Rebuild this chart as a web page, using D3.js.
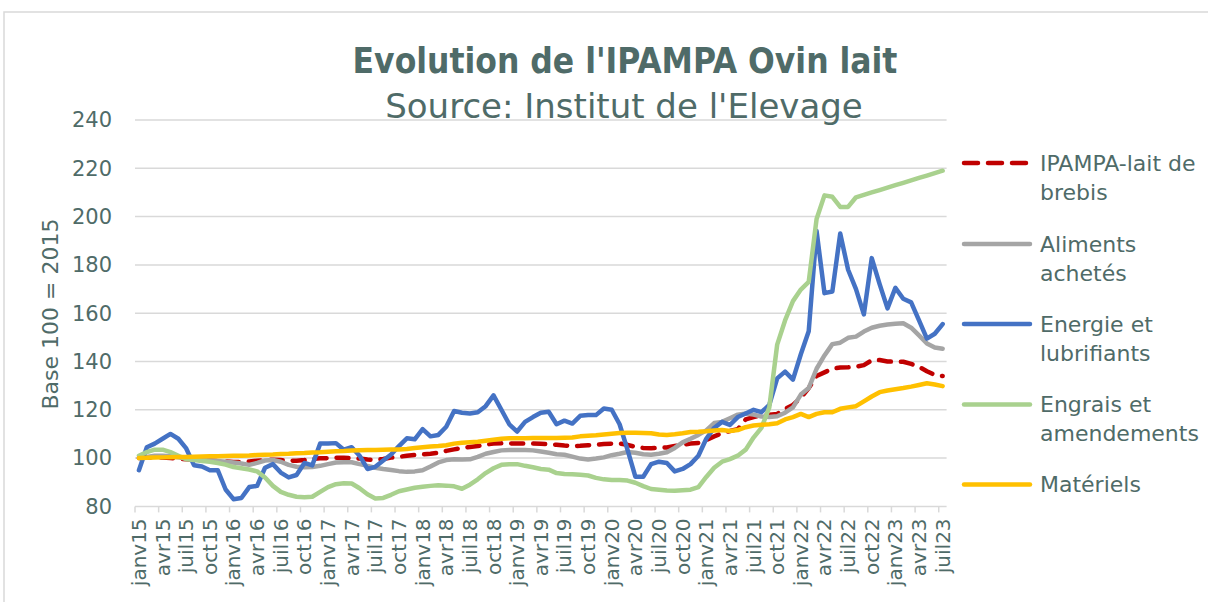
<!DOCTYPE html>
<html>
<head>
<meta charset="utf-8">
<script src="https://cdn.jsdelivr.net/npm/d3@7"></script>
<style>
	body { margin: 0; background: white; }
	svg { display: block; font-family: 'DejaVu Sans', sans-serif; }
</style>
</head>
<body>
<svg id="chart" width="1208" height="602"></svg>
<script>
// month names used for the category axis (janv15 ... juil23)
let monthNames = ['janv', 'févr', 'mars', 'avr', 'mai', 'juin', 'juil', 'août', 'sept', 'oct', 'nov', 'déc'];
let years = ['15', '16', '17', '18', '19', '20', '21', '22', '23'];
let yTicks = [80, 100, 120, 140, 160, 180, 200, 220, 240];

let ipampa = [100, 100.2, 100.3, 100.2, 100, 99.8, 99.5, 99.3, 99.1, 99, 98.8, 98.6,
	98.4, 98.4, 98.6, 98.9, 99.2, 99.3, 99.2, 99, 98.9, 99.2, 99.6, 99.9,
	100, 100.1, 100.1, 100, 99.8, 99.4, 99.3, 99.6, 100.2, 100.5, 101, 101.3,
	101.5, 101.8, 102.2, 103, 103.6, 104.2, 104.6, 105, 105.6, 106, 106.1, 106.1,
	106, 106, 106, 105.9, 105.8, 105.5, 105.2, 105, 105.1, 105.3, 105.5, 105.8,
	106, 106, 105.5, 104.6, 104.2, 104.1, 104.2, 104.4, 105, 105.5, 106, 106.3,
	107.5, 109, 110.3, 111.2, 112, 116, 117, 117.8, 118, 118.3, 120.3, 122,
	125, 129, 134, 135.5, 137, 137.5, 137.6, 137.8, 138.5, 140.5, 140.6, 140,
	139.9, 139.9, 139, 137.8, 136, 134.4, 134];
let aliments = [100, 100.5, 101, 101, 100.8, 100.3, 99.8, 99.5, 99.2, 99, 98.8, 98.5,
	98.2, 97.8, 97.2, 98, 99, 99.2, 98.5, 97.2, 96.4, 96.2, 96.3, 96.8,
	97.5, 98.2, 98.3, 98.3, 97.5, 96.8, 96, 95.5, 95.1, 94.6, 94.3, 94.5,
	95, 96.5, 98.2, 99.2, 99.5, 99.4, 99.5, 100.5, 101.8, 102.5, 103.2, 103.4,
	103.4, 103.4, 103.2, 102.7, 102.2, 101.6, 101.4, 100.6, 99.8, 99.4, 99.8, 100.3,
	101.2, 101.8, 102.5, 102.2, 101.6, 101.4, 101.8, 102.4, 104.2, 106.5, 108, 109.6,
	111.5, 114.5, 115, 116.5, 118, 118.5, 118, 117.2, 117, 117.3, 118.8, 121,
	126.3, 129, 137, 142.5, 147.2, 147.8, 149.8, 150.3, 152.4, 154, 154.8, 155.3,
	155.6, 155.8, 154, 150.8, 147.5, 145.8, 145.3];
let energie = [95, 104.5, 106, 108, 110, 108, 104, 97, 96.5, 95, 95, 87,
	83, 83.5, 88, 88.5, 96, 97.5, 94, 92, 93, 98, 97, 106,
	106, 106.2, 103.5, 104.5, 101, 95.5, 96.4, 99, 101.5, 105, 108.2, 107.8,
	112, 109, 109.6, 113, 119.5, 118.8, 118.5, 119, 121.5, 126, 120, 114,
	111, 115, 117, 118.8, 119.2, 114, 115.5, 114.3, 117.5, 117.8, 117.8, 120.5,
	120, 114, 103.5, 92.3, 92.3, 97.5, 98.5, 98, 94.5, 95.5, 97.5, 101,
	108, 112.5, 115, 113.7, 117, 118.5, 120, 119, 122, 133, 135.8, 132.5,
	143, 152.5, 194, 168.3, 169, 193, 178, 170, 159.5, 182.8, 172, 162,
	170.5, 166, 164.5, 157, 149.5, 151.5, 155.5];
let engrais = [101, 102.5, 103.5, 103.5, 102.5, 101, 99.5, 99.2, 98.8, 98.5, 98, 97.3,
	96.3, 95.8, 95.3, 94.5, 92, 88.5, 86, 84.8, 84, 83.8, 84, 86,
	88, 89.2, 89.6, 89.5, 87.5, 85, 83.3, 83.5, 84.8, 86.3, 87, 87.7,
	88.1, 88.5, 88.8, 88.6, 88.3, 87.3, 89, 91.2, 93.8, 95.8, 97.2, 97.5,
	97.5, 96.8, 96.2, 95.5, 95.2, 93.8, 93.4, 93.3, 93.1, 92.8, 91.8, 91.2,
	90.9, 90.9, 90.7, 89.8, 88.4, 87.2, 86.9, 86.6, 86.5, 86.7, 86.9, 88,
	92.2, 96, 98.5, 99.6, 101, 103.5, 108.5, 112.5, 121, 147, 157, 165,
	169.8, 173, 199, 208.8, 208.2, 204, 204, 208, 209, 210, 211, 212,
	213, 214, 215, 216, 217, 218, 219];
let materiels = [100, 100.1, 100.2, 100.3, 100.4, 100.5, 100.5, 100.6, 100.7, 100.8, 100.8, 100.9,
	101, 101, 101.1, 101.3, 101.4, 101.5, 101.7, 101.8, 102, 102.1, 102.3, 102.4,
	102.6, 102.8, 102.9, 103.1, 103.3, 103.4, 103.4, 103.5, 103.6, 103.6, 103.8, 104.2,
	104.5, 104.8, 105, 105.3, 106, 106.4, 106.6, 106.8, 107.2, 107.6, 108, 108.2,
	108.2, 108.2, 108.3, 108.3, 108.3, 108.3, 108.4, 108.5, 109, 109.3, 109.5, 109.8,
	110.1, 110.4, 110.5, 110.5, 110.4, 110.3, 109.8, 109.6, 109.9, 110.3, 110.8, 110.9,
	111.1, 111.4, 111.6, 111.2, 111.6, 112.8, 113.5, 113.8, 114, 114.4, 116, 117,
	118.3, 117, 118.3, 119, 119, 120.4, 121, 121.5, 123.5, 125.5, 127.3, 128,
	128.5, 129, 129.6, 130.3, 131, 130.5, 129.8];

let seriesNames = [['IPAMPA-lait de', 'brebis'], ['Aliments', 'achetés'], ['Energie et', 'lubrifiants'], ['Engrais et', 'amendements'], ['Matériels']];
let seriesValues = [ipampa, aliments, energie, engrais, materiels];
let seriesColors = ['#c00000', '#a5a5a5', '#4472c4', '#a9d18e', '#ffc000'];

// build category labels janv15 .. juil23
let categories = [];
for (let y of years) {
	for (let m of monthNames) {
		if (categories.length < ipampa.length) categories.push(m + y);
	}
}

let textColor = '#4f6b68';
let gridColor = '#d9d9d9';
let svg = d3.select('#chart');

// outer chart border
svg.append('rect').attr('x', 4).attr('y', 12).attr('width', 1300).attr('height', 700)
	.style('fill', 'none').style('stroke', gridColor).style('stroke-width', 1.5);

let x = d3.scaleBand().domain(categories).range([135, 946.6]);
let y = d3.scaleLinear().domain([80, 240]).range([506.4, 120]);

// gridlines
svg.append('g').selectAll('line').data(yTicks.slice(1)).join('line')
	.attr('x1', 135).attr('x2', 946.6)
	.attr('y1', d => y(d)).attr('y2', d => y(d))
	.style('stroke', gridColor).style('stroke-width', 1.5);

// x axis: line + tick marks every 3 months (between categories) + labels
let xAxis = svg.append('g').attr('transform', 'translate(0,' + y(80) + ')');
xAxis.append('line').attr('x1', 135).attr('x2', 946.6)
	.style('stroke', gridColor).style('stroke-width', 1.5);
let tickCats = categories.filter((d, i) => i % 3 == 0);
xAxis.selectAll('line.tick').data(tickCats).join('line').attr('class', 'tick')
	.attr('x1', d => x(d)).attr('x2', d => x(d))
	.attr('y1', 0).attr('y2', 6)
	.style('stroke', gridColor).style('stroke-width', 1.5);
xAxis.selectAll('text').data(tickCats).join('text')
	.attr('transform', d => 'translate(' + (x(d) + x.bandwidth() / 2) + ',12) rotate(-90)')
	.attr('dy', '0.35em')
	.attr('text-anchor', 'end')
	.style('font-size', '20px')
	.style('fill', textColor)
	.text(d => d);

// y axis labels
svg.append('g').selectAll('text').data(yTicks).join('text')
	.attr('x', 112).attr('y', d => y(d))
	.attr('dy', '0.35em')
	.attr('text-anchor', 'end')
	.style('font-size', '21px')
	.style('fill', textColor)
	.text(d => d);

svg.append('text')
	.attr('transform', 'translate(50,314) rotate(-90)')
	.attr('dy', '0.35em')
	.attr('text-anchor', 'middle')
	.style('font-size', '22px')
	.style('fill', textColor)
	.text('Base 100 = 2015');

// series lines
let lineFn = d3.line().x((d, i) => x(categories[i]) + x.bandwidth() / 2).y(d => y(d));
svg.append('g').selectAll('path').data(seriesValues).join('path')
	.attr('d', d => lineFn(d))
	.style('fill', 'none')
	.style('stroke', (d, i) => seriesColors[i])
	.style('stroke-width', 4.5)
	.style('stroke-linejoin', 'round')
	.style('stroke-linecap', 'round')
	.style('stroke-dasharray', (d, i) => i == 0 ? '12,10' : null);

// title
svg.append('text').attr('x', 625).attr('y', 73)
	.attr('text-anchor', 'middle')
	.style('font-family', "'DejaVu Sans Condensed', 'DejaVu Sans', sans-serif")
	.style('font-weight', 'bold')
	.style('font-size', '35px')
	.style('fill', textColor)
	.text("Evolution de l'IPAMPA Ovin lait");
svg.append('text').attr('x', 624).attr('y', 118)
	.attr('text-anchor', 'middle')
	.style('font-size', '34px')
	.style('fill', textColor)
	.text("Source: Institut de l'Elevage");

// legend
let legendY = [163, 244, 324, 404.5, 484.5];
let legend = svg.append('g').selectAll('g').data(seriesNames).join('g')
	.attr('transform', (d, i) => 'translate(0,' + legendY[i] + ')');
legend.append('line')
	.attr('x1', 964).attr('x2', 1030)
	.style('stroke', (d, i) => seriesColors[i])
	.style('stroke-width', 4.5)
	.style('stroke-linecap', 'round')
	.style('stroke-dasharray', (d, i) => i == 0 ? '14,10' : null);
legend.selectAll('text').data(d => d).join('text')
	.attr('x', 1040).attr('y', (d, i) => i * 29)
	.attr('dy', '0.35em')
	.style('font-size', '22px')
	.style('fill', textColor)
	.text(d => d);
</script>
</body>
</html>
